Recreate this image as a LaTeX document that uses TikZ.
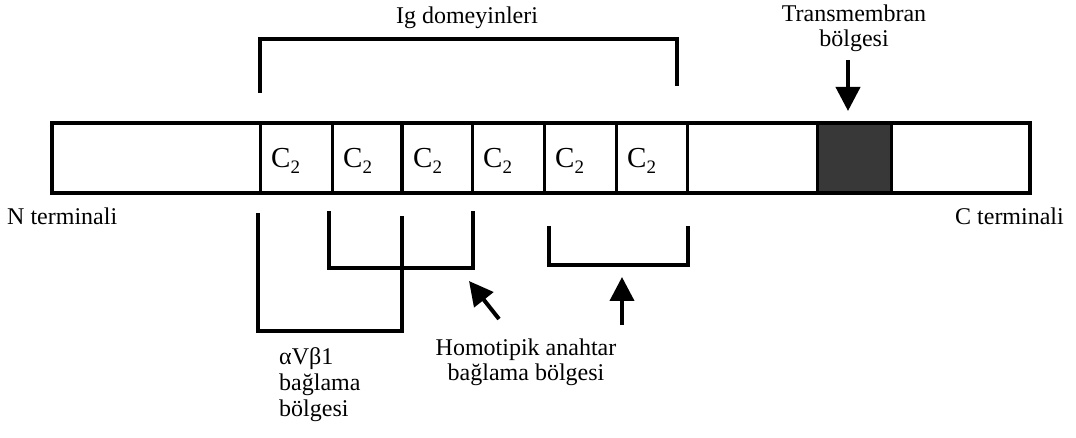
\documentclass[tikz,border=0pt]{standalone}
\usepackage{fontspec}
\setmainfont{Liberation Serif}
\usetikzlibrary{arrows.meta}
\begin{document}
\begin{tikzpicture}[x=1pt,y=-1pt,
  bar/.style={line width=3.5pt},
  divider/.style={line width=3pt},
  bracket/.style={line width=3.5pt},
  label/.style={font=\fontsize{24}{25}\selectfont, inner sep=0pt},
  domtext/.style={font=\fontsize{29}{29}\selectfont, inner sep=0pt, anchor=base west},
  bigarrow/.style={line width=4pt, -{Triangle[length=24pt,width=24pt]}}]
\useasboundingbox (0,0) rectangle (1076,438);

% transmembrane segment
\fill[black!78] (817,123) rectangle (891,193);
% main bar
\draw[bar] (52,123) rectangle (1030,193);
% domain dividers
\foreach \xx in {260,332,472,544,616,687,817,891}
  \draw[divider] (\xx,123) -- (\xx,193);
\draw[line width=4.5pt] (402,123) -- (402,193);

% domain labels
\foreach \xx/\nm in {260/d1,332/d2,402/d3,472/d4,544/d5,616/d6}
  \node[domtext] (\nm) at (\xx+11,168) {C\raisebox{-6pt}{\fontsize{19}{19}\selectfont 2}};

% Ig domain bracket
\coordinate (igL) at (260,93);
\coordinate (igR) at (677,86);
\draw[bracket] (igL) -- (260,39) -- (677,39) -- (igR);
\node[label, anchor=base] (ig) at (467,24) {Ig domeyinleri};

% transmembrane label and arrow
\node[label, anchor=base] (tm1) at (854,22) {Transmembran};
\node[label, anchor=base] (tm2) at (854,47) {bölgesi};
\coordinate (tmS) at (848,60);
\coordinate (tmE) at (848,111);
\draw[bigarrow] (tmS) -- (tmE);

% terminal labels
\node[label, anchor=base west] (nt) at (7,225) {N terminali};
\node[label, anchor=base east] (ct) at (1064,225) {C terminali};

% alphaVbeta1 binding bracket
\coordinate (aL) at (258,213);
\coordinate (aR) at (402,216);
\draw[bracket] (aL) -- (258,331) -- (402,331) -- (aR);

% homophilic binding brackets
\coordinate (hL) at (329,211);
\coordinate (hR) at (473,211);
\draw[bracket] (hL) -- (329,268) -- (473,268) -- (hR);
\coordinate (kL) at (549,226);
\coordinate (kR) at (688,226);
\draw[bracket] (kL) -- (549,265) -- (688,265) -- (kR);

% pointer arrows
\coordinate (p1S) at (499,319);
\coordinate (p1E) at (469,281);
\draw[bigarrow] (p1S) -- (p1E);
\coordinate (p2S) at (622,325);
\coordinate (p2E) at (622,277);
\draw[bigarrow] (p2S) -- (p2E);

% lower labels
\node[label, anchor=base] (homo1) at (526,355) {Homotipik anahtar};
\node[label, anchor=base] (homo2) at (526,380) {bağlama bölgesi};
\node[label, anchor=base west] (ab1) at (279,364) {αVβ1};
\node[label, anchor=base west] (ab2) at (279,390) {bağlama};
\node[label, anchor=base west] (ab3) at (279,416) {bölgesi};
\end{tikzpicture}
\end{document}
